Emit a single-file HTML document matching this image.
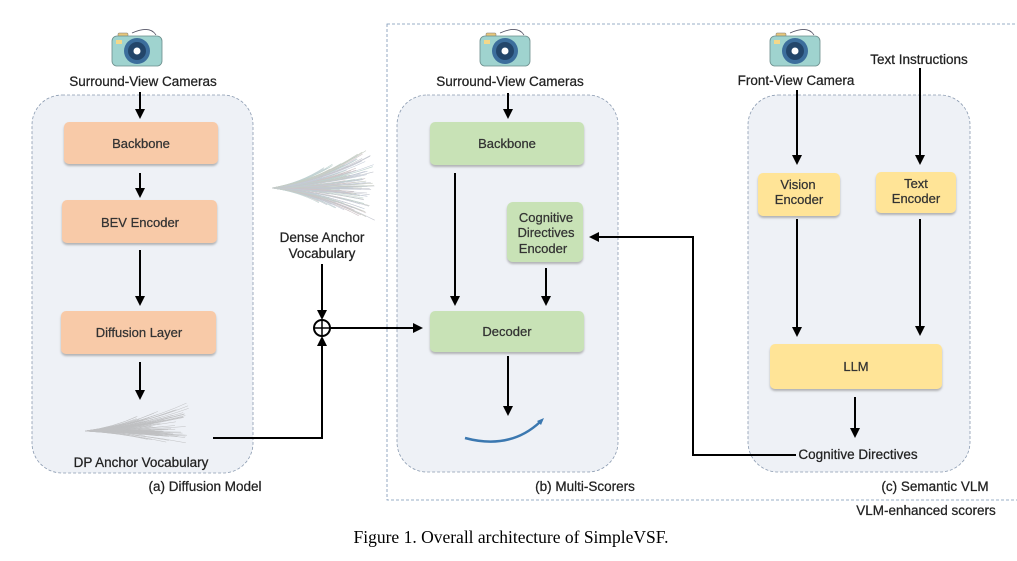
<!DOCTYPE html>
<html><head><meta charset="utf-8"><style>
html,body{margin:0;padding:0;background:#fff}
svg{display:block}
text{font-family:"Liberation Sans",sans-serif;font-size:13.5px;fill:#222;stroke:#222;stroke-width:0.25}
.b{font-size:13px;fill:#333;stroke:#333}
</style></head><body>
<svg width="1017" height="561" viewBox="0 0 1017 561" xmlns="http://www.w3.org/2000/svg">
<defs>
<marker id="ah" markerWidth="10" markerHeight="10" refX="8" refY="5" orient="auto" markerUnits="userSpaceOnUse">
<path d="M0,0 L10,5 L0,10 z" fill="#000"/></marker>
<filter id="sh" x="-10%" y="-10%" width="120%" height="130%"><feDropShadow dx="0" dy="2" stdDeviation="1" flood-color="#888" flood-opacity="0.6"/></filter>
<g id="cam">
<path d="M20,4 Q38,-4 44,6" stroke="#556" fill="none" stroke-width="0.8"/>
<rect x="6" y="4" width="10" height="5" rx="1" fill="#e8c67a" stroke="#777" stroke-width="0.5"/>
<rect x="0" y="7" width="50" height="30" rx="5" fill="#9fd3cf" stroke="#6a8c8a" stroke-width="0.8"/>
<rect x="4" y="11" width="6" height="4" fill="#f3d88a"/>
<circle cx="25" cy="22" r="13" fill="#3c6e9c"/>
<circle cx="25" cy="22" r="9" fill="#23466a"/>
<circle cx="25" cy="22" r="3.5" fill="#fff"/>
</g>
</defs>

<rect x="387" y="24" width="633" height="476" fill="none" stroke="#7a95b5" stroke-dasharray="3,2" stroke-width="0.8"/>

<rect x="32" y="95" width="221" height="378" rx="30" fill="#eef1f6" stroke="#8a9ab0" stroke-dasharray="3,2" stroke-width="0.8"/>
<rect x="397" y="95" width="221" height="377" rx="30" fill="#eef1f6" stroke="#8a9ab0" stroke-dasharray="3,2" stroke-width="0.8"/>
<rect x="748" y="95" width="222" height="377" rx="30" fill="#eef1f6" stroke="#8a9ab0" stroke-dasharray="3,2" stroke-width="0.8"/>

<use href="#cam" x="112" y="29"/>
<use href="#cam" x="480" y="29"/>
<use href="#cam" x="770" y="29"/>

<text x="143" y="86" text-anchor="middle">Surround-View Cameras</text>
<text x="510" y="86" text-anchor="middle">Surround-View Cameras</text>
<text x="796" y="85" text-anchor="middle">Front-View Camera</text>
<text x="919" y="64" text-anchor="middle">Text Instructions</text>

<g filter="url(#sh)" fill="#f8caa8">
<rect x="64" y="122" width="154" height="42" rx="5"/>
<rect x="62" y="200" width="155" height="43" rx="5"/>
<rect x="61" y="311" width="155" height="43" rx="5"/>
</g>
<text class="b" x="141" y="148" text-anchor="middle">Backbone</text>
<text class="b" x="140" y="227" text-anchor="middle">BEV Encoder</text>
<text class="b" x="139" y="337" text-anchor="middle">Diffusion Layer</text>

<g filter="url(#sh)" fill="#c8e2b6">
<rect x="430" y="122" width="154" height="43" rx="5"/>
<rect x="507" y="202" width="76" height="60" rx="6"/>
<rect x="430" y="311" width="154" height="41" rx="5"/>
</g>
<text class="b" x="507" y="148" text-anchor="middle">Backbone</text>
<text class="b" x="546" y="222" text-anchor="middle">Cognitive</text>
<text class="b" x="546" y="237" text-anchor="middle">Directives</text>
<text class="b" x="543" y="253" text-anchor="middle">Encoder</text>
<text class="b" x="507" y="336" text-anchor="middle">Decoder</text>

<g filter="url(#sh)" fill="#ffe497">
<rect x="758" y="173" width="82" height="43" rx="5"/>
<rect x="876" y="172" width="80" height="41" rx="5"/>
<rect x="770" y="344" width="172" height="45" rx="5"/>
</g>
<text class="b" x="798" y="189" text-anchor="middle">Vision</text>
<text class="b" x="799" y="204" text-anchor="middle">Encoder</text>
<text class="b" x="916" y="188" text-anchor="middle">Text</text>
<text class="b" x="916" y="203" text-anchor="middle">Encoder</text>
<text class="b" x="856" y="371" text-anchor="middle">LLM</text>

<g stroke="#000" stroke-width="2" fill="none" marker-end="url(#ah)">
<line x1="140" y1="92" x2="140" y2="117"/>
<line x1="140" y1="173" x2="140" y2="196"/>
<line x1="140" y1="250" x2="140" y2="304"/>
<line x1="140" y1="362" x2="140" y2="398"/>
<line x1="322" y1="264" x2="322" y2="318"/>
<polyline points="213,438 322,438 322,338"/>
<line x1="330" y1="328" x2="421" y2="328"/>
<line x1="508" y1="93" x2="508" y2="117"/>
<line x1="455" y1="173" x2="455" y2="304"/>
<line x1="546" y1="268" x2="546" y2="304"/>
<line x1="508" y1="356" x2="508" y2="414"/>
<polyline points="796,455 693,455 693,237 591,237"/>
<line x1="797" y1="90" x2="797" y2="163"/>
<line x1="920" y1="68" x2="920" y2="163"/>
<line x1="797" y1="219" x2="797" y2="335"/>
<line x1="920" y1="219" x2="920" y2="334"/>
<line x1="855" y1="397" x2="855" y2="436"/>
</g>
<circle cx="322" cy="328" r="8" fill="#fff" stroke="#000" stroke-width="2"/>
<line x1="314" y1="328" x2="330" y2="328" stroke="#000" stroke-width="1.5"/>
<line x1="322" y1="320" x2="322" y2="336" stroke="#000" stroke-width="1.5"/>

<path d="M465,438 Q510,450 540,422" stroke="#3b78b0" stroke-width="2.5" fill="none"/>
<path d="M537,421 L544,418 L541,425 z" fill="#3b78b0"/>

<g id="fan1" stroke="#a0a0a0" stroke-width="0.5" fill="none" opacity="0.6"></g>
<g id="fan2" stroke-width="0.6" fill="none" opacity="0.5"></g>

<text x="322" y="242" text-anchor="middle">Dense Anchor</text>
<text x="322" y="258" text-anchor="middle">Vocabulary</text>
<text x="141" y="467" text-anchor="middle">DP Anchor Vocabulary</text>
<text x="205" y="491" text-anchor="middle">(a) Diffusion Model</text>
<text x="585" y="491" text-anchor="middle">(b) Multi-Scorers</text>
<text x="858" y="459" text-anchor="middle">Cognitive Directives</text>
<text x="935" y="491" text-anchor="middle">(c) Semantic VLM</text>
<text x="926" y="515" text-anchor="middle">VLM-enhanced scorers</text>
<text x="511" y="543" text-anchor="middle" style="font-family:'Liberation Serif',serif;font-size:17.5px;fill:#000;stroke:none">Figure 1. Overall architecture of SimpleVSF.</text>
</svg>
<script>
(function(){
var ns="http://www.w3.org/2000/svg";
function fan(id,x0,y0,len,up,down,n,colors,seed){
 var g=document.getElementById(id);var s=seed;
 function r(){s=(s*9301+49297)%233280;return s/233280;}
 for(var i=0;i<n;i++){
  var t=r();var L=len*(0.45+0.55*r());
  var dy=(t<0.55? -up*Math.pow(r(),1.3): down*Math.pow(r(),1.3))*(L/len);
  var x1=x0+L, y1=y0+dy;
  var cx=x0+L*0.55, cy=y0+dy*0.25;
  var p=document.createElementNS(ns,"path");
  p.setAttribute("d","M"+x0+","+y0+" Q"+cx.toFixed(1)+","+cy.toFixed(1)+" "+x1.toFixed(1)+","+y1.toFixed(1));
  if(colors)p.setAttribute("stroke",colors[i%colors.length]);
  g.appendChild(p);
 }
}
fan("fan1",85,431,105,30,15,110,null,7);
fan("fan2",272,188,103,42,34,200,["#8a8fa0","#7fa6a0","#a08a90","#8898b0","#909a88"],11);
})();
</script>
</body></html>
